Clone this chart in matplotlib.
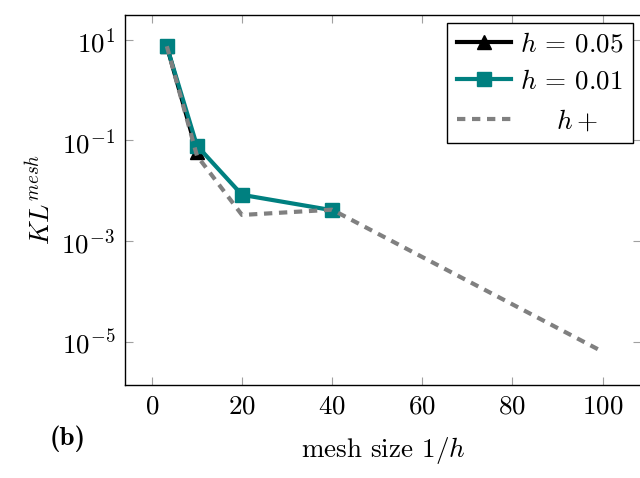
import matplotlib
matplotlib.use("Agg")
import matplotlib.pyplot as plt

plt.rcParams['font.family'] = 'serif'
plt.rcParams['font.serif'] = ['cmr10', 'DejaVu Serif']
plt.rcParams['mathtext.fontset'] = 'cm'
plt.rcParams['axes.formatter.use_mathtext'] = True
plt.rcParams['axes.unicode_minus'] = False

# data
x_h005 = [3.33, 10]
kl_h005 = [7.5, 0.058]
x_h001 = [3.33, 10, 20, 40]
kl_h001 = [7.5, 0.079, 0.0083, 0.0041]
x_hplus = [3.33, 10, 20, 40, 100]
kl_hplus = [7.5, 0.05, 0.0033, 0.0042, 6.3e-6]

teal = '#008080'
grey = '#808080'
fs = 19.5

fig = plt.figure(figsize=(6.4, 4.78), dpi=100)
ax = fig.add_axes([0.195, 0.195, 0.807, 0.774])

ax.plot(x_h005, kl_h005, '-^', color='black', lw=3, ms=10, label=r'$h$ = 0.05')
ax.plot(x_h001, kl_h001, '-s', color=teal, lw=3, ms=10, label=r'$h$ = 0.01')
ax.plot(x_hplus, kl_hplus, '--', color=grey, lw=3, dashes=(2, 1.6), label=r'    $h+$')

ax.set_yscale('log')
ax.set_xlim(-6, 108.6)
ax.set_ylim(10 ** -5.86, 10 ** 1.5)
ax.set_xticks([0, 20, 40, 60, 80, 100])
ax.set_yticks([1e1, 1e-1, 1e-3, 1e-5])
ax.set_yticklabels([r'$10^{1}$', r'$10^{-1}$', r'$10^{-3}$', r'$10^{-5}$'])
ax.minorticks_off()
ax.tick_params(direction='in', length=6, color='#a0a0a0', top=True, right=True,
               labelsize=fs, pad=7)
for s in ax.spines.values():
    s.set_linewidth(1.0)

ax.set_xlabel(r'mesh size $1/h$', fontsize=fs, labelpad=12)
ax.set_ylabel(r'$KL^{mesh}$', fontsize=fs, labelpad=4)

leg = ax.legend(loc='upper right', fontsize=fs, fancybox=False, edgecolor='black',
                framealpha=1, handlelength=2.0, borderaxespad=0.3,
                labelspacing=0.5, borderpad=0.35, handletextpad=0.35)
leg.get_frame().set_linewidth(1.0)

fig.text(0.078, 0.07, '(b)', fontsize=fs, family='cmb10')

fig.savefig('out.png', dpi=100)
